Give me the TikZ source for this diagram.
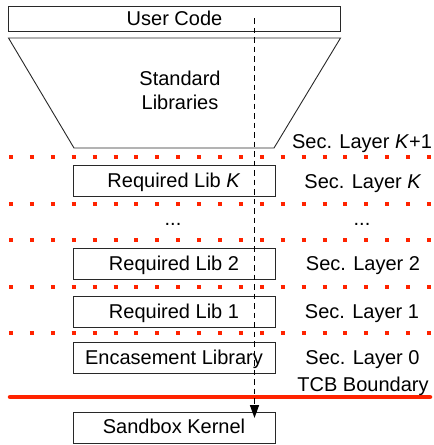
\documentclass[tikz,border=0pt]{standalone}
\usepackage{fontspec}
\setmainfont{Liberation Sans}
\usetikzlibrary{arrows.meta}
\definecolor{secred}{RGB}{255,35,0}
\definecolor{boxline}{RGB}{40,40,40}
\begin{document}
\begin{tikzpicture}[x=1pt,y=-1pt,
  every node/.style={font=\fontsize{20}{24}\selectfont, inner sep=0pt},
  libbox/.style={draw=boxline, line width=0.9pt, minimum width=202pt, minimum height=31pt, text height=14.4pt, text depth=0pt},
  lbl/.style={anchor=base},
  secdots/.style={draw=secred, line width=4pt, dash pattern=on 4pt off 16.9pt},
  tcb/.style={draw=secred, line width=4.5pt, line cap=round},
  flow/.style={draw=black, line width=1.5pt, dash pattern=on 5.5pt off 4pt, -{Triangle[length=13pt,width=9pt,sep=0pt]}}
]
\useasboundingbox (0,0) rectangle (434,445);
% top box
\node[libbox, minimum width=332pt, minimum height=25pt, text height=13pt] (user) at (174.5,18.5) {User Code};
% standard libraries trapezoid
\draw[boxline, line width=0.9pt] (8.5,38) -- (340.5,38) -- (274,148) -- (74,148) -- cycle;
\node[align=center, anchor=base] (std) at (180,109) {Standard\\Libraries};
% security layer separators
\foreach \yy in {157,204,240,287,333}
  \draw[secdots] (9,\yy) -- (432,\yy);
\draw[tcb] (10,397) -- (430,397);
% boxes
\node[libbox] (libk) at (174,180.5) {Required Lib \textit{K}};
\node[lbl] (dotsl) at (173,225) {...};
\node[libbox] (lib2) at (174,263.5) {Required Lib 2};
\node[libbox] (lib1) at (174,311.5) {Required Lib 1};
\node[libbox] (enc) at (174,357.5) {Encasement Library};
\node[libbox, minimum height=31pt, text height=11pt] (kern) at (174,427.8) {Sandbox Kernel};
% right labels
\node[lbl] (lk1) at (362,148) {Sec. Layer \textit{K}+1};
\node[lbl] (lk) at (363,188.3) {Sec. Layer \textit{K}};
\node[lbl] (dotsr) at (362,225) {...};
\node[lbl] (l2) at (363,270) {Sec. Layer 2};
\node[lbl] (l1) at (362,318.3) {Sec. Layer 1};
\node[lbl] (l0) at (362.5,364.3) {Sec. Layer 0};
\node[lbl] (tcbl) at (363,391.7) {TCB Boundary};
% call path
\coordinate (start) at (254.5,18);
\coordinate (stop) at (254.5,418);
\draw[flow] (start) -- (stop);
\end{tikzpicture}
\end{document}
